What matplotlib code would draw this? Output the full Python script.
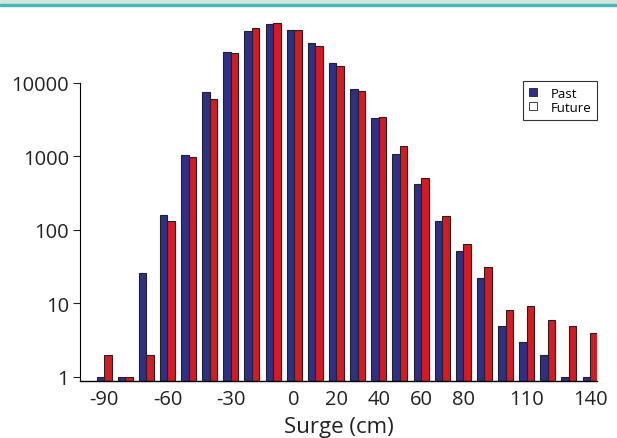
import matplotlib
matplotlib.use("Agg")
import matplotlib.pyplot as plt
from matplotlib.patches import Patch, Rectangle
import numpy as np

# surge bins (cm) and counts
surge = [-90, -80, -70, -60, -50, -40, -30, -20, -10, 0, 10, 20,
         30, 40, 50, 60, 70, 80, 90, 100, 110, 120, 130, 140]
past = [1, 1, 26, 160, 1060, 7600, 26700, 50500, 62900, 53000, 34700, 18700,
        8300, 3300, 1080, 420, 131, 51, 22, 5, 3, 2, 1, 1]
future = [2, 1, 2, 131, 985, 6000, 25600, 55400, 64900, 53000, 31600, 16900,
          7800, 3400, 1380, 510, 154, 65, 31, 8.1, 9.2, 6, 5, 4]

xticks = [-90, -60, -30, 0, 20, 40, 60, 80, 110, 140]
yticks = [1, 10, 100, 1000, 10000]

navy = "#2e3088"
red = "#d81920"

plt.rcParams['font.family'] = ['Open Sans', 'DejaVu Sans']

fig = plt.figure(figsize=(6.17, 4.39), dpi=100)
# header strip at the top
fig.patches.append(Rectangle((0, 1 - 5 / 439), 1, 5 / 439, transform=fig.transFigure,
                             color="#d3e7d6", zorder=0))
fig.patches.append(Rectangle((0, 1 - 7 / 439), 1, 2 / 439, transform=fig.transFigure,
                             color="#48b6c1", zorder=0))

ax = fig.add_axes([80 / 617, 57 / 439, 517 / 617, 371.5 / 439])
ax.patch.set_alpha(0)

x = np.array(surge)
w = 3.55
base = 0.5
ax.bar(x - w / 2, np.array(past) - base, width=w, bottom=base, color=navy,
       edgecolor="#222222", linewidth=0.8)
ax.bar(x + w / 2, np.array(future) - base, width=w, bottom=base, color=red,
       edgecolor="#222222", linewidth=0.8)

ax.set_yscale("log")
ax.set_ylim(0.88, 1e5)
ax.set_xlim(-101.4, 143.3)

ax.set_yticks(yticks)
ax.set_yticklabels([str(v) for v in yticks], fontsize=14.5)
ax.minorticks_off()
ax.set_xticks(xticks)
ax.set_xticklabels([str(v) for v in xticks], fontsize=14.5)
ax.tick_params(axis="x", length=0, pad=6, colors="#222222")
ax.tick_params(axis="y", length=5, width=0.8, pad=3, colors="#222222")
ax.set_xlabel("Surge (cm)", fontsize=16, color="#222222", labelpad=5)

for s in ["top", "right"]:
    ax.spines[s].set_visible(False)
ax.spines["left"].set_bounds(0.88, 10000)
ax.spines["left"].set_linewidth(0.8)
ax.spines["bottom"].set_linewidth(1.0)

handles = [Patch(facecolor=navy, edgecolor="#222222", linewidth=0.6, label="Past"),
           Patch(facecolor="white", edgecolor="#222222", linewidth=0.6, label="Future")]
leg = fig.legend(handles=handles, loc="upper right", bbox_to_anchor=(597 / 617, 1 - 82 / 439),
                 fontsize=9.5, handlelength=0.6, handleheight=0.6, handletextpad=1.0,
                 borderpad=0.45, borderaxespad=0, labelspacing=0.05, fancybox=False,
                 framealpha=1)
leg.get_frame().set_edgecolor("#333333")
leg.get_frame().set_linewidth(0.8)

fig.savefig("out.png", dpi=100)
